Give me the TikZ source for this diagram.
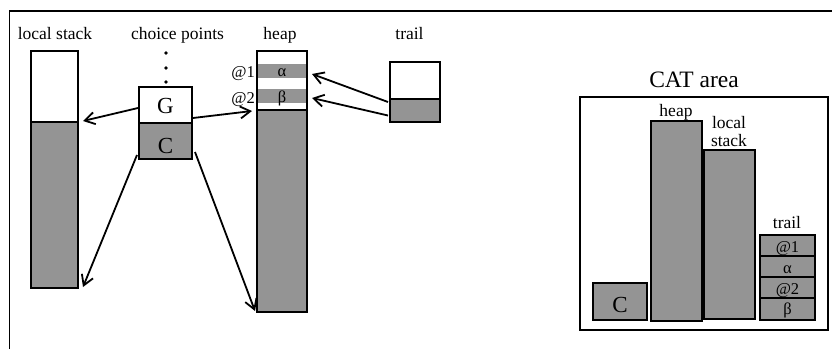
\documentclass[tikz,border=0pt]{standalone}
\usepackage{fontspec}
\setmainfont{Liberation Serif}
\usetikzlibrary{arrows.meta,calc}
\definecolor{shade}{gray}{0.58}
\begin{document}
\begin{tikzpicture}[x=1pt,y=-1pt,
  lbl/.style={font=\fontsize{17.5}{20}\selectfont, anchor=base, inner sep=0},
  small/.style={font=\fontsize{16.5}{19}\selectfont, anchor=base, inner sep=0},
  big/.style={font=\fontsize{23}{26}\selectfont, anchor=base, inner sep=0},
  title/.style={font=\fontsize{23.5}{27}\selectfont, anchor=base, inner sep=0},
  cell/.style={draw, line width=1.9pt, inner sep=0, outer sep=0, anchor=north west},
  thin/.style={draw, line width=1.1pt, inner sep=0, outer sep=0, anchor=north west},
  band/.style={fill=shade, inner sep=0, outer sep=0, anchor=north west},
  arr/.style={line width=1.8pt, -{Straight Barb[length=10pt,width=12pt]}}]
\useasboundingbox (0,0) rectangle (832,349);
% outer frame
\draw[line width=1.4pt] (9.5,349) -- (9.5,11) -- (832,11);
% labels
\node[lbl] (lsl) at (55,39) {local stack};
\node[lbl] (cpl) at (177.5,39) {choice points};
\node[lbl] (hpl) at (280,39) {heap};
\node[lbl] (trl) at (409.5,39) {trail};
% local stack
\node[cell, minimum width=47pt, minimum height=71pt] (lstop) at (31,51) {};
\node[cell, fill=shade, minimum width=47pt, minimum height=166pt] (lsbot) at (31,122) {};
% choice points
\fill (166,53) circle (1.9);
\fill (166,68) circle (1.9);
\fill (166,82) circle (1.9);
\node[cell, minimum width=53pt, minimum height=36pt] (G) at (139,87) {};
\node[cell, fill=shade, minimum width=53pt, minimum height=36pt] (C) at (139,123) {};
\node[big] (Gt) at (165.5,113) {G};
\node[big] (Ct) at (165.5,153) {C};
% heap
\node[cell, minimum width=50pt, minimum height=261pt] (heap) at (257,51) {};
\node[band, minimum width=48pt, minimum height=14pt] (alpha) at (258,64) {};
\node[band, minimum width=48pt, minimum height=14pt] (beta) at (258,89) {};
\node[cell, fill=shade, minimum width=50pt, minimum height=202pt] (heapbot) at (257,110) {};
\node[small] (at) at (282,76) {α};
\node[small] (bt) at (282,102) {β};
\node[small, anchor=base east] (a1) at (255,77) {@1};
\node[small, anchor=base east] (a2) at (255,103) {@2};
% trail
\node[cell, minimum width=50pt, minimum height=37pt] (trtop) at (390,62) {};
\node[cell, fill=shade, minimum width=50pt, minimum height=23pt] (trbot) at (390,99) {};
% arrows
\draw[arr] ($(G.west)+(-1,3)$) -- ($(lstop.south east)+(5,-1)$);
\draw[arr] ($(G.east)+(1,13)$) -- ($(heapbot.north west)+(-5,1)$);
\draw[arr] ($(C.south west)+(-2,-4)$) -- ($(lsbot.south east)+(5,-1)$);
\draw[arr] ($(C.south east)+(3,-7)$) -- ($(heapbot.south west)+(-2,-1)$);
\draw[arr] ($(trbot.north west)+(-2,3)$) -- ($(alpha.east)+(6,3)$);
\draw[arr] ($(trbot.west)+(-2,5)$) -- ($(beta.east)+(6,2)$);
% CAT area
\node[title] (catl) at (694,87) {CAT area};
\node[thin, minimum width=248pt, minimum height=233pt] (cat) at (580,97) {};
\node[cell, fill=shade, minimum width=54pt, minimum height=37pt] (cC) at (593,283) {};
\node[big] (cCt) at (620,312) {C};
\node[cell, fill=shade, minimum width=51pt, minimum height=200pt] (cheap) at (651,121) {};
\node[lbl] (cheapl) at (676,116) {heap};
\node[cell, fill=shade, minimum width=51pt, minimum height=169pt] (cls) at (704,150) {};
\node[lbl] (clsl1) at (729,128) {local};
\node[lbl] (clsl2) at (729,146) {stack};
\node[lbl] (ctrl) at (787,228) {trail};
\node[cell, fill=shade, minimum width=55pt, minimum height=21pt] (ct1) at (760,235) {};
\node[cell, fill=shade, minimum width=55pt, minimum height=21pt] (ct2) at (760,256) {};
\node[cell, fill=shade, minimum width=55pt, minimum height=21pt] (ct3) at (760,277) {};
\node[cell, fill=shade, minimum width=55pt, minimum height=22pt] (ct4) at (760,298) {};
\node[small] (ct1t) at (787.5,252) {@1};
\node[small] (ct2t) at (787.5,273) {α};
\node[small] (ct3t) at (787.5,294) {@2};
\node[small] (ct4t) at (787.5,314) {β};
\end{tikzpicture}
\end{document}
